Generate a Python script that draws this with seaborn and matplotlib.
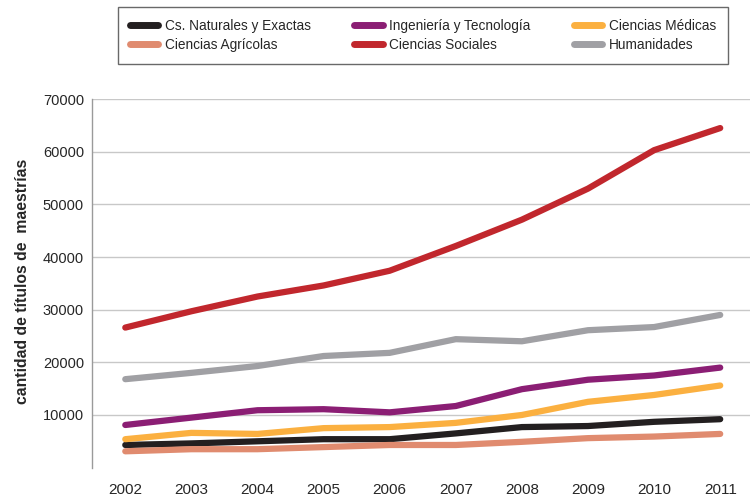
import numpy as np
import pandas as pd
import matplotlib.pyplot as plt
import seaborn as sns

years = list(range(2002, 2012))
naturales = [4300, 4600, 5000, 5400, 5400, 6500, 7700, 7900, 8700, 9200]
ingenieria = [8100, 9500, 10900, 11100, 10500, 11700, 14900, 16700, 17500, 19000]
medicas = [5400, 6600, 6400, 7500, 7700, 8500, 10000, 12500, 13800, 15600]
agricolas = [3100, 3500, 3500, 3900, 4300, 4300, 4900, 5600, 5900, 6400]
sociales = [26600, 29700, 32500, 34600, 37400, 42100, 47100, 53000, 60300, 64500]
humanidades = [16800, 18000, 19300, 21200, 21800, 24400, 24000, 26100, 26700, 29000]

series = {
    "Cs. Naturales y Exactas": naturales,
    "Ciencias Agrícolas": agricolas,
    "Ingeniería y Tecnología": ingenieria,
    "Ciencias Sociales": sociales,
    "Ciencias Médicas": medicas,
    "Humanidades": humanidades,
}
colors = {
    "Cs. Naturales y Exactas": "#231f20",
    "Ciencias Agrícolas": "#e08b6f",
    "Ingeniería y Tecnología": "#8b1e74",
    "Ciencias Sociales": "#c1272d",
    "Ciencias Médicas": "#fbb040",
    "Humanidades": "#a0a0a4",
}

df = pd.DataFrame(
    [(y, k, v) for k, vals in series.items() for y, v in zip(years, vals)],
    columns=["year", "area", "value"],
)

sns.set_style("white")
plt.rcParams["font.family"] = ["Liberation Sans", "DejaVu Sans"]

fig = plt.figure(figsize=(7.56, 4.98), dpi=100)
ax = fig.add_axes([0.122, 0.061, 0.870, 0.740])

sns.lineplot(
    data=df, x="year", y="value", hue="area",
    hue_order=list(series.keys()), palette=colors,
    linewidth=4.5, ax=ax, legend=True,
)
for line in ax.lines:
    line.set_solid_capstyle("round")

ax.set_ylim(0, 70000)
ax.set_xlim(2001.5, 2011.45)
ax.set_yticks(range(10000, 70001, 10000))
ax.set_yticklabels([str(v) for v in range(10000, 70001, 10000)], fontsize=10.5)
ax.set_xticks(years)
ax.set_xticklabels([str(y) for y in years], fontsize=11)
ax.tick_params(axis="y", length=0, pad=6)
ax.tick_params(axis="x", length=0, pad=11)
ax.grid(axis="y", color="#c8c8c8", linewidth=1)
ax.set_axisbelow(True)
for s in ["top", "right", "bottom"]:
    ax.spines[s].set_visible(False)
ax.spines["left"].set_color("#9a9a9a")
ax.spines["left"].set_linewidth(1)
ax.set_xlabel("")
ax.set_ylabel("cantidad de títulos de  maestrías", fontsize=11.3, fontweight="bold")
ax.yaxis.set_label_coords(-0.095, 0.505)

handles, labels = ax.get_legend_handles_labels()
ax.get_legend().remove()
leg = fig.legend(
    handles, labels, ncol=3, loc="upper left",
    bbox_to_anchor=(0.156, 0.875, 0.807, 0.111), mode="expand", borderaxespad=0,
    fontsize=9.8, frameon=True, fancybox=False, edgecolor="#444444",
    handlelength=2.1, handletextpad=0.5, borderpad=0.85, labelspacing=0.4,
)
leg.get_frame().set_linewidth(1)
for h in leg.get_lines():
    h.set_linewidth(5)
    h.set_solid_capstyle("round")

plt.savefig("out.png", dpi=100)
